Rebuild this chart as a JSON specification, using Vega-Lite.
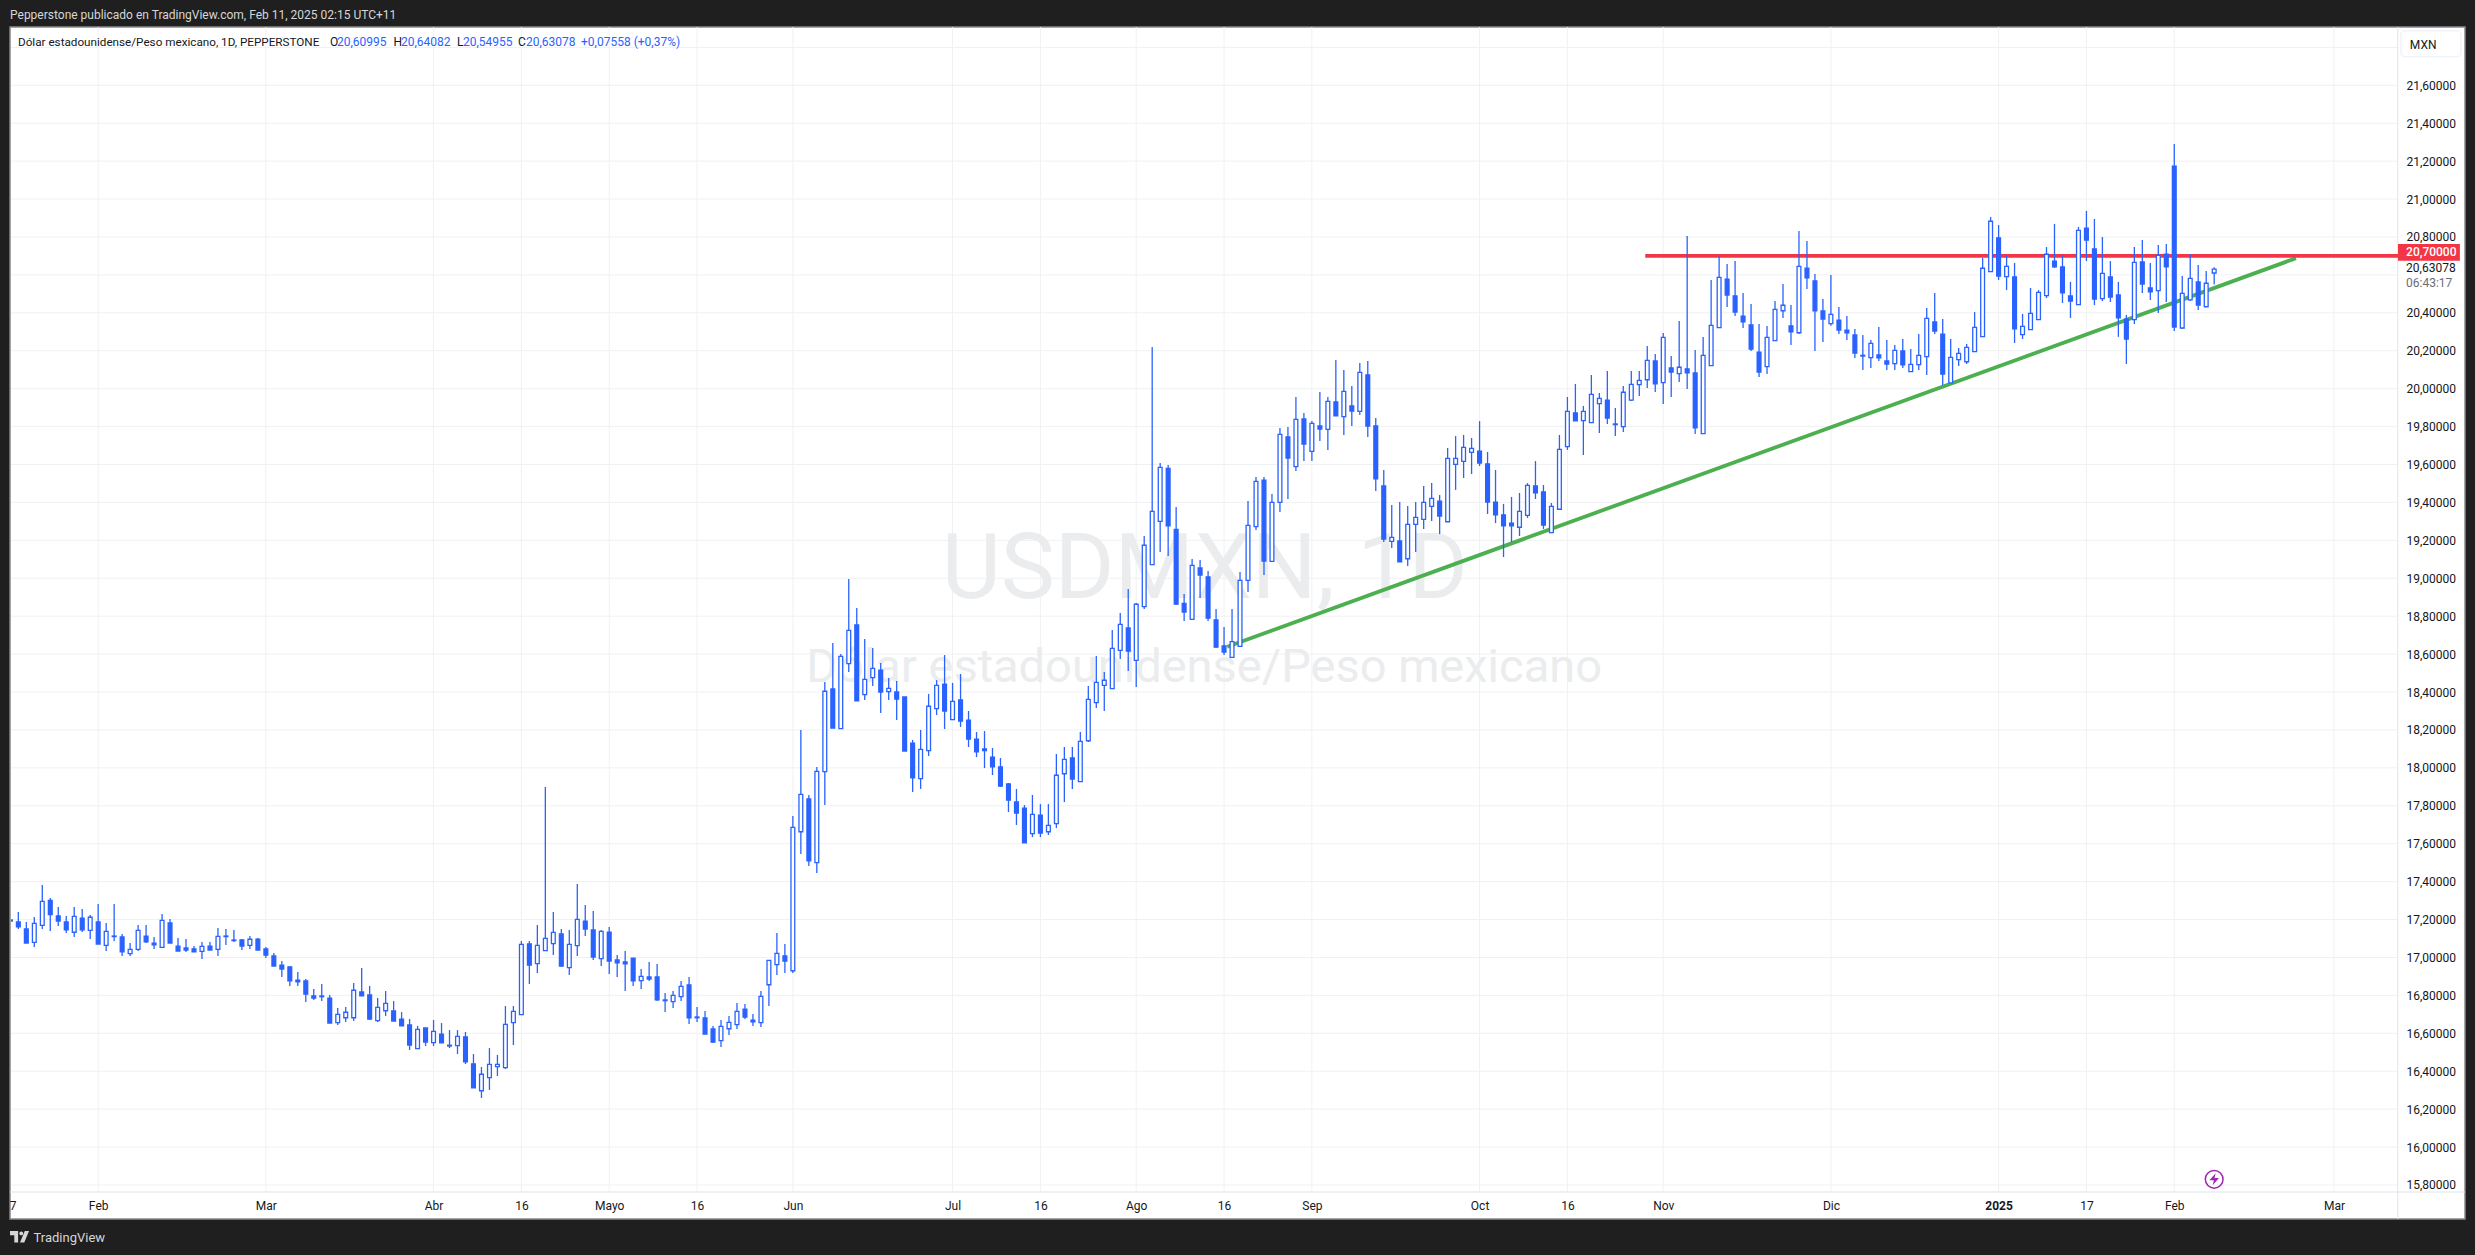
{
"$schema":"https://vega.github.io/schema/vega-lite/v6.json",
"width":2387,"height":1165,
"autosize":{"type":"none"},
"padding":{"left":11,"top":27,"right":77,"bottom":63},
"background":"#1f1f1f",
"view":{"fill":"#ffffff","stroke":null},
"config":{"text":{"font":"Roboto"},"axis":{"grid":false,"domain":false,"ticks":false,"title":null}},
"datasets":{
"candles":[
{"bar":-1,"o":17.198,"h":17.382,"l":17.183,"c":17.192},
{"bar":0,"o":17.187,"h":17.240,"l":17.150,"c":17.161},
{"bar":1,"o":17.150,"h":17.187,"l":17.076,"c":17.076},
{"bar":2,"o":17.080,"h":17.213,"l":17.055,"c":17.180},
{"bar":3,"o":17.169,"h":17.382,"l":17.150,"c":17.296},
{"bar":4,"o":17.301,"h":17.314,"l":17.140,"c":17.226},
{"bar":5,"o":17.219,"h":17.266,"l":17.166,"c":17.192},
{"bar":6,"o":17.187,"h":17.219,"l":17.129,"c":17.145},
{"bar":7,"o":17.133,"h":17.266,"l":17.108,"c":17.217},
{"bar":8,"o":17.208,"h":17.256,"l":17.134,"c":17.145},
{"bar":9,"o":17.143,"h":17.224,"l":17.097,"c":17.212},
{"bar":10,"o":17.187,"h":17.282,"l":17.071,"c":17.071},
{"bar":11,"o":17.064,"h":17.182,"l":17.034,"c":17.138},
{"bar":12,"o":17.113,"h":17.282,"l":17.087,"c":17.110},
{"bar":13,"o":17.108,"h":17.124,"l":17.008,"c":17.029},
{"bar":14,"o":17.020,"h":17.076,"l":17.008,"c":17.043},
{"bar":15,"o":17.043,"h":17.171,"l":17.034,"c":17.143},
{"bar":16,"o":17.113,"h":17.171,"l":17.076,"c":17.082},
{"bar":17,"o":17.076,"h":17.108,"l":17.045,"c":17.066},
{"bar":18,"o":17.053,"h":17.229,"l":17.053,"c":17.196},
{"bar":19,"o":17.182,"h":17.203,"l":17.076,"c":17.076},
{"bar":20,"o":17.060,"h":17.103,"l":17.034,"c":17.034},
{"bar":21,"o":17.050,"h":17.097,"l":17.029,"c":17.039},
{"bar":22,"o":17.045,"h":17.060,"l":17.029,"c":17.029},
{"bar":23,"o":17.032,"h":17.082,"l":16.992,"c":17.059},
{"bar":24,"o":17.060,"h":17.082,"l":17.039,"c":17.039},
{"bar":25,"o":17.043,"h":17.155,"l":17.008,"c":17.111},
{"bar":26,"o":17.110,"h":17.150,"l":17.066,"c":17.113},
{"bar":27,"o":17.092,"h":17.145,"l":17.082,"c":17.089},
{"bar":28,"o":17.092,"h":17.097,"l":17.039,"c":17.060},
{"bar":29,"o":17.064,"h":17.113,"l":17.045,"c":17.096},
{"bar":30,"o":17.097,"h":17.103,"l":17.039,"c":17.039},
{"bar":31,"o":17.045,"h":17.055,"l":16.997,"c":17.013},
{"bar":32,"o":17.008,"h":17.024,"l":16.955,"c":16.955},
{"bar":33,"o":16.960,"h":16.981,"l":16.897,"c":16.939},
{"bar":34,"o":16.950,"h":16.955,"l":16.850,"c":16.876},
{"bar":35,"o":16.881,"h":16.923,"l":16.850,"c":16.871},
{"bar":36,"o":16.876,"h":16.886,"l":16.765,"c":16.807},
{"bar":37,"o":16.797,"h":16.834,"l":16.776,"c":16.786},
{"bar":38,"o":16.797,"h":16.860,"l":16.770,"c":16.793},
{"bar":39,"o":16.786,"h":16.802,"l":16.654,"c":16.654},
{"bar":40,"o":16.656,"h":16.733,"l":16.644,"c":16.700},
{"bar":41,"o":16.682,"h":16.739,"l":16.660,"c":16.711},
{"bar":42,"o":16.682,"h":16.865,"l":16.665,"c":16.827},
{"bar":43,"o":16.818,"h":16.944,"l":16.797,"c":16.797},
{"bar":44,"o":16.802,"h":16.850,"l":16.670,"c":16.675},
{"bar":45,"o":16.667,"h":16.786,"l":16.660,"c":16.737},
{"bar":46,"o":16.719,"h":16.823,"l":16.691,"c":16.758},
{"bar":47,"o":16.718,"h":16.770,"l":16.665,"c":16.665},
{"bar":48,"o":16.675,"h":16.712,"l":16.639,"c":16.639},
{"bar":49,"o":16.644,"h":16.675,"l":16.512,"c":16.538},
{"bar":50,"o":16.519,"h":16.639,"l":16.519,"c":16.621},
{"bar":51,"o":16.628,"h":16.628,"l":16.533,"c":16.554},
{"bar":52,"o":16.551,"h":16.670,"l":16.533,"c":16.610},
{"bar":53,"o":16.596,"h":16.654,"l":16.549,"c":16.549},
{"bar":54,"o":16.533,"h":16.617,"l":16.522,"c":16.537},
{"bar":55,"o":16.535,"h":16.617,"l":16.491,"c":16.584},
{"bar":56,"o":16.581,"h":16.607,"l":16.438,"c":16.449},
{"bar":57,"o":16.438,"h":16.491,"l":16.312,"c":16.312},
{"bar":58,"o":16.297,"h":16.422,"l":16.259,"c":16.384},
{"bar":59,"o":16.366,"h":16.522,"l":16.301,"c":16.436},
{"bar":60,"o":16.424,"h":16.486,"l":16.375,"c":16.436},
{"bar":61,"o":16.419,"h":16.744,"l":16.412,"c":16.647},
{"bar":62,"o":16.656,"h":16.744,"l":16.538,"c":16.716},
{"bar":63,"o":16.698,"h":17.087,"l":16.698,"c":17.069},
{"bar":64,"o":17.071,"h":17.087,"l":16.860,"c":16.960},
{"bar":65,"o":16.967,"h":17.171,"l":16.918,"c":17.064},
{"bar":66,"o":17.036,"h":17.899,"l":17.036,"c":17.101},
{"bar":67,"o":17.073,"h":17.240,"l":17.013,"c":17.132},
{"bar":68,"o":17.124,"h":17.150,"l":16.950,"c":16.955},
{"bar":69,"o":16.946,"h":17.145,"l":16.907,"c":17.069},
{"bar":70,"o":17.062,"h":17.387,"l":17.008,"c":17.201},
{"bar":71,"o":17.192,"h":17.277,"l":17.113,"c":17.150},
{"bar":72,"o":17.145,"h":17.245,"l":16.987,"c":17.002},
{"bar":73,"o":16.994,"h":17.145,"l":16.955,"c":17.138},
{"bar":74,"o":17.134,"h":17.161,"l":16.913,"c":16.981},
{"bar":75,"o":16.987,"h":17.013,"l":16.897,"c":16.971},
{"bar":76,"o":16.976,"h":17.034,"l":16.823,"c":16.966},
{"bar":77,"o":16.997,"h":16.997,"l":16.849,"c":16.876},
{"bar":78,"o":16.878,"h":16.939,"l":16.834,"c":16.900},
{"bar":79,"o":16.897,"h":16.976,"l":16.876,"c":16.886},
{"bar":80,"o":16.897,"h":16.966,"l":16.770,"c":16.776},
{"bar":81,"o":16.776,"h":16.813,"l":16.712,"c":16.772},
{"bar":82,"o":16.767,"h":16.823,"l":16.733,"c":16.800},
{"bar":83,"o":16.793,"h":16.876,"l":16.770,"c":16.848},
{"bar":84,"o":16.855,"h":16.897,"l":16.649,"c":16.681},
{"bar":85,"o":16.686,"h":16.739,"l":16.660,"c":16.682},
{"bar":86,"o":16.681,"h":16.718,"l":16.596,"c":16.596},
{"bar":87,"o":16.623,"h":16.639,"l":16.549,"c":16.554},
{"bar":88,"o":16.561,"h":16.670,"l":16.528,"c":16.637},
{"bar":89,"o":16.624,"h":16.691,"l":16.591,"c":16.658},
{"bar":90,"o":16.646,"h":16.760,"l":16.623,"c":16.716},
{"bar":91,"o":16.728,"h":16.755,"l":16.675,"c":16.686},
{"bar":92,"o":16.670,"h":16.702,"l":16.639,"c":16.660},
{"bar":93,"o":16.656,"h":16.823,"l":16.633,"c":16.795},
{"bar":94,"o":16.856,"h":16.985,"l":16.744,"c":16.985},
{"bar":95,"o":16.962,"h":17.129,"l":16.907,"c":17.022},
{"bar":96,"o":17.008,"h":17.071,"l":16.918,"c":16.981},
{"bar":97,"o":16.930,"h":17.746,"l":16.918,"c":17.686},
{"bar":98,"o":17.663,"h":18.200,"l":17.546,"c":17.860},
{"bar":99,"o":17.836,"h":17.857,"l":17.482,"c":17.509},
{"bar":100,"o":17.500,"h":18.005,"l":17.445,"c":17.982},
{"bar":101,"o":17.980,"h":18.453,"l":17.804,"c":18.404},
{"bar":102,"o":18.416,"h":18.659,"l":18.210,"c":18.210},
{"bar":103,"o":18.207,"h":18.601,"l":18.207,"c":18.588},
{"bar":104,"o":18.550,"h":18.996,"l":18.506,"c":18.725},
{"bar":105,"o":18.754,"h":18.843,"l":18.353,"c":18.353},
{"bar":106,"o":18.386,"h":18.680,"l":18.358,"c":18.467},
{"bar":107,"o":18.476,"h":18.632,"l":18.432,"c":18.525},
{"bar":108,"o":18.516,"h":18.553,"l":18.289,"c":18.400},
{"bar":109,"o":18.402,"h":18.474,"l":18.358,"c":18.419},
{"bar":110,"o":18.400,"h":18.458,"l":18.252,"c":18.363},
{"bar":111,"o":18.374,"h":18.374,"l":18.089,"c":18.089},
{"bar":112,"o":18.131,"h":18.147,"l":17.873,"c":17.947},
{"bar":113,"o":17.943,"h":18.200,"l":17.889,"c":18.098},
{"bar":114,"o":18.091,"h":18.390,"l":18.063,"c":18.325},
{"bar":115,"o":18.312,"h":18.463,"l":18.279,"c":18.435},
{"bar":116,"o":18.442,"h":18.595,"l":18.205,"c":18.300},
{"bar":117,"o":18.254,"h":18.448,"l":18.254,"c":18.351},
{"bar":118,"o":18.358,"h":18.495,"l":18.216,"c":18.247},
{"bar":119,"o":18.252,"h":18.300,"l":18.110,"c":18.152},
{"bar":120,"o":18.152,"h":18.189,"l":18.057,"c":18.084},
{"bar":121,"o":18.100,"h":18.194,"l":17.999,"c":18.091},
{"bar":122,"o":18.057,"h":18.105,"l":17.962,"c":18.005},
{"bar":123,"o":18.005,"h":18.052,"l":17.899,"c":17.904},
{"bar":124,"o":17.915,"h":17.920,"l":17.767,"c":17.830},
{"bar":125,"o":17.820,"h":17.889,"l":17.699,"c":17.762},
{"bar":126,"o":17.788,"h":17.804,"l":17.604,"c":17.604},
{"bar":127,"o":17.653,"h":17.857,"l":17.635,"c":17.755},
{"bar":128,"o":17.751,"h":17.809,"l":17.635,"c":17.656},
{"bar":129,"o":17.663,"h":17.809,"l":17.646,"c":17.697},
{"bar":130,"o":17.706,"h":18.073,"l":17.683,"c":17.961},
{"bar":131,"o":17.969,"h":18.110,"l":17.820,"c":18.045},
{"bar":132,"o":18.052,"h":18.110,"l":17.889,"c":17.941},
{"bar":133,"o":17.927,"h":18.189,"l":17.927,"c":18.140},
{"bar":134,"o":18.143,"h":18.432,"l":18.136,"c":18.361},
{"bar":135,"o":18.344,"h":18.590,"l":18.316,"c":18.451},
{"bar":136,"o":18.435,"h":18.506,"l":18.300,"c":18.462},
{"bar":137,"o":18.418,"h":18.727,"l":18.418,"c":18.630},
{"bar":138,"o":18.620,"h":18.817,"l":18.574,"c":18.757},
{"bar":139,"o":18.738,"h":18.943,"l":18.511,"c":18.616},
{"bar":140,"o":18.567,"h":18.870,"l":18.427,"c":18.863},
{"bar":141,"o":18.850,"h":19.223,"l":18.838,"c":19.174},
{"bar":142,"o":19.072,"h":20.220,"l":19.072,"c":19.353},
{"bar":143,"o":19.300,"h":19.608,"l":19.139,"c":19.585},
{"bar":144,"o":19.580,"h":19.597,"l":19.117,"c":19.277},
{"bar":145,"o":19.258,"h":19.376,"l":18.859,"c":18.864},
{"bar":146,"o":18.868,"h":18.917,"l":18.775,"c":18.822},
{"bar":147,"o":18.783,"h":19.102,"l":18.783,"c":19.068},
{"bar":148,"o":19.054,"h":19.096,"l":18.896,"c":19.017},
{"bar":149,"o":19.007,"h":19.038,"l":18.775,"c":18.790},
{"bar":150,"o":18.780,"h":18.838,"l":18.632,"c":18.637},
{"bar":151,"o":18.643,"h":18.743,"l":18.595,"c":18.611},
{"bar":152,"o":18.583,"h":18.838,"l":18.583,"c":18.666},
{"bar":153,"o":18.641,"h":19.033,"l":18.641,"c":18.989},
{"bar":154,"o":18.989,"h":19.407,"l":18.928,"c":19.279},
{"bar":155,"o":19.272,"h":19.534,"l":19.255,"c":19.511},
{"bar":156,"o":19.518,"h":19.534,"l":19.017,"c":19.091},
{"bar":157,"o":19.089,"h":19.444,"l":19.089,"c":19.400},
{"bar":158,"o":19.400,"h":19.793,"l":19.349,"c":19.759},
{"bar":159,"o":19.745,"h":19.798,"l":19.418,"c":19.634},
{"bar":160,"o":19.589,"h":19.956,"l":19.566,"c":19.838},
{"bar":161,"o":19.840,"h":19.872,"l":19.618,"c":19.708},
{"bar":162,"o":19.669,"h":19.829,"l":19.618,"c":19.817},
{"bar":163,"o":19.803,"h":19.982,"l":19.724,"c":19.787},
{"bar":164,"o":19.785,"h":19.956,"l":19.676,"c":19.933},
{"bar":165,"o":19.930,"h":20.151,"l":19.856,"c":19.856},
{"bar":166,"o":19.852,"h":20.098,"l":19.756,"c":19.986},
{"bar":167,"o":19.909,"h":20.014,"l":19.803,"c":19.882},
{"bar":168,"o":19.880,"h":20.135,"l":19.861,"c":20.086},
{"bar":169,"o":20.072,"h":20.146,"l":19.745,"c":19.803},
{"bar":170,"o":19.803,"h":19.845,"l":19.460,"c":19.524},
{"bar":171,"o":19.487,"h":19.571,"l":19.191,"c":19.207},
{"bar":172,"o":19.195,"h":19.386,"l":19.160,"c":19.216},
{"bar":173,"o":19.197,"h":19.402,"l":19.086,"c":19.086},
{"bar":174,"o":19.103,"h":19.381,"l":19.065,"c":19.284},
{"bar":175,"o":19.284,"h":19.402,"l":19.139,"c":19.321},
{"bar":176,"o":19.311,"h":19.487,"l":19.260,"c":19.400},
{"bar":177,"o":19.379,"h":19.502,"l":19.302,"c":19.421},
{"bar":178,"o":19.407,"h":19.439,"l":19.233,"c":19.328},
{"bar":179,"o":19.298,"h":19.687,"l":19.298,"c":19.632},
{"bar":180,"o":19.601,"h":19.750,"l":19.466,"c":19.632},
{"bar":181,"o":19.617,"h":19.756,"l":19.529,"c":19.690},
{"bar":182,"o":19.664,"h":19.740,"l":19.550,"c":19.685},
{"bar":183,"o":19.671,"h":19.829,"l":19.592,"c":19.608},
{"bar":184,"o":19.603,"h":19.666,"l":19.339,"c":19.402},
{"bar":185,"o":19.402,"h":19.571,"l":19.291,"c":19.334},
{"bar":186,"o":19.334,"h":19.392,"l":19.112,"c":19.276},
{"bar":187,"o":19.291,"h":19.429,"l":19.191,"c":19.276},
{"bar":188,"o":19.269,"h":19.450,"l":19.223,"c":19.353},
{"bar":189,"o":19.332,"h":19.502,"l":19.318,"c":19.490},
{"bar":190,"o":19.487,"h":19.618,"l":19.418,"c":19.450},
{"bar":191,"o":19.455,"h":19.492,"l":19.260,"c":19.281},
{"bar":192,"o":19.241,"h":19.397,"l":19.241,"c":19.379},
{"bar":193,"o":19.364,"h":19.756,"l":19.364,"c":19.680},
{"bar":194,"o":19.694,"h":19.956,"l":19.677,"c":19.880},
{"bar":195,"o":19.872,"h":20.025,"l":19.830,"c":19.830},
{"bar":196,"o":19.831,"h":19.909,"l":19.650,"c":19.880},
{"bar":197,"o":19.821,"h":20.072,"l":19.821,"c":19.970},
{"bar":198,"o":19.921,"h":19.977,"l":19.766,"c":19.949},
{"bar":199,"o":19.940,"h":20.093,"l":19.814,"c":19.845},
{"bar":200,"o":19.810,"h":19.898,"l":19.750,"c":19.814},
{"bar":201,"o":19.800,"h":20.014,"l":19.771,"c":19.981},
{"bar":202,"o":19.940,"h":20.093,"l":19.935,"c":20.023},
{"bar":203,"o":20.021,"h":20.093,"l":19.961,"c":20.044},
{"bar":204,"o":20.047,"h":20.225,"l":20.004,"c":20.149},
{"bar":205,"o":20.146,"h":20.183,"l":19.982,"c":20.025},
{"bar":206,"o":20.032,"h":20.294,"l":19.919,"c":20.271},
{"bar":207,"o":20.109,"h":20.172,"l":19.956,"c":20.088},
{"bar":208,"o":20.079,"h":20.357,"l":20.035,"c":20.113},
{"bar":209,"o":20.104,"h":20.805,"l":19.998,"c":20.083},
{"bar":210,"o":20.083,"h":20.204,"l":19.761,"c":19.793},
{"bar":211,"o":19.763,"h":20.273,"l":19.763,"c":20.176},
{"bar":212,"o":20.121,"h":20.573,"l":20.121,"c":20.334},
{"bar":213,"o":20.322,"h":20.700,"l":20.322,"c":20.587},
{"bar":214,"o":20.578,"h":20.658,"l":20.431,"c":20.494},
{"bar":215,"o":20.489,"h":20.673,"l":20.383,"c":20.404},
{"bar":216,"o":20.383,"h":20.505,"l":20.320,"c":20.352},
{"bar":217,"o":20.336,"h":20.447,"l":20.199,"c":20.209},
{"bar":218,"o":20.193,"h":20.341,"l":20.062,"c":20.088},
{"bar":219,"o":20.116,"h":20.331,"l":20.077,"c":20.271},
{"bar":220,"o":20.253,"h":20.462,"l":20.253,"c":20.418},
{"bar":221,"o":20.411,"h":20.552,"l":20.373,"c":20.440},
{"bar":222,"o":20.331,"h":20.441,"l":20.230,"c":20.299},
{"bar":223,"o":20.295,"h":20.832,"l":20.288,"c":20.645},
{"bar":224,"o":20.636,"h":20.779,"l":20.526,"c":20.584},
{"bar":225,"o":20.568,"h":20.605,"l":20.199,"c":20.410},
{"bar":226,"o":20.410,"h":20.473,"l":20.246,"c":20.367},
{"bar":227,"o":20.343,"h":20.600,"l":20.332,"c":20.392},
{"bar":228,"o":20.362,"h":20.431,"l":20.288,"c":20.309},
{"bar":229,"o":20.309,"h":20.383,"l":20.257,"c":20.294},
{"bar":230,"o":20.283,"h":20.315,"l":20.162,"c":20.188},
{"bar":231,"o":20.176,"h":20.283,"l":20.099,"c":20.172},
{"bar":232,"o":20.164,"h":20.257,"l":20.109,"c":20.239},
{"bar":233,"o":20.178,"h":20.325,"l":20.146,"c":20.162},
{"bar":234,"o":20.146,"h":20.257,"l":20.099,"c":20.130},
{"bar":235,"o":20.132,"h":20.230,"l":20.099,"c":20.202},
{"bar":236,"o":20.199,"h":20.262,"l":20.109,"c":20.125},
{"bar":237,"o":20.090,"h":20.209,"l":20.088,"c":20.128},
{"bar":238,"o":20.127,"h":20.288,"l":20.098,"c":20.176},
{"bar":239,"o":20.169,"h":20.425,"l":20.072,"c":20.371},
{"bar":240,"o":20.352,"h":20.505,"l":20.288,"c":20.304},
{"bar":241,"o":20.288,"h":20.367,"l":20.019,"c":20.077},
{"bar":242,"o":20.030,"h":20.262,"l":20.030,"c":20.165},
{"bar":243,"o":20.153,"h":20.214,"l":20.120,"c":20.186},
{"bar":244,"o":20.142,"h":20.236,"l":20.130,"c":20.218},
{"bar":245,"o":20.195,"h":20.404,"l":20.195,"c":20.323},
{"bar":246,"o":20.274,"h":20.689,"l":20.274,"c":20.635},
{"bar":247,"o":20.617,"h":20.905,"l":20.617,"c":20.883},
{"bar":248,"o":20.795,"h":20.863,"l":20.573,"c":20.594},
{"bar":249,"o":20.591,"h":20.700,"l":20.520,"c":20.645},
{"bar":250,"o":20.589,"h":20.663,"l":20.241,"c":20.315},
{"bar":251,"o":20.285,"h":20.394,"l":20.262,"c":20.329},
{"bar":252,"o":20.311,"h":20.531,"l":20.311,"c":20.397},
{"bar":253,"o":20.364,"h":20.520,"l":20.364,"c":20.508},
{"bar":254,"o":20.491,"h":20.747,"l":20.478,"c":20.709},
{"bar":255,"o":20.673,"h":20.869,"l":20.636,"c":20.642},
{"bar":256,"o":20.642,"h":20.705,"l":20.452,"c":20.505},
{"bar":257,"o":20.489,"h":20.563,"l":20.373,"c":20.462},
{"bar":258,"o":20.443,"h":20.853,"l":20.443,"c":20.835},
{"bar":259,"o":20.847,"h":20.937,"l":20.673,"c":20.784},
{"bar":260,"o":20.737,"h":20.895,"l":20.441,"c":20.473},
{"bar":261,"o":20.475,"h":20.800,"l":20.462,"c":20.608},
{"bar":262,"o":20.589,"h":20.673,"l":20.457,"c":20.483},
{"bar":263,"o":20.494,"h":20.563,"l":20.273,"c":20.373},
{"bar":264,"o":20.367,"h":20.389,"l":20.130,"c":20.262},
{"bar":265,"o":20.364,"h":20.747,"l":20.341,"c":20.666},
{"bar":266,"o":20.668,"h":20.784,"l":20.505,"c":20.552},
{"bar":267,"o":20.531,"h":20.663,"l":20.468,"c":20.510},
{"bar":268,"o":20.517,"h":20.758,"l":20.399,"c":20.703},
{"bar":269,"o":20.710,"h":20.763,"l":20.457,"c":20.642},
{"bar":270,"o":21.174,"h":21.290,"l":20.304,"c":20.325},
{"bar":271,"o":20.320,"h":20.594,"l":20.315,"c":20.503},
{"bar":272,"o":20.468,"h":20.710,"l":20.462,"c":20.582},
{"bar":273,"o":20.563,"h":20.652,"l":20.415,"c":20.441},
{"bar":274,"o":20.432,"h":20.621,"l":20.432,"c":20.556},
{"bar":275,"o":20.60995,"h":20.64082,"l":20.54955,"c":20.63078}
],
"priceGrid":[{"price":15.8},{"price":16.0},{"price":16.2},{"price":16.4},{"price":16.6},{"price":16.8},{"price":17.0},{"price":17.2},{"price":17.4},{"price":17.6},{"price":17.8},{"price":18.0},{"price":18.2},{"price":18.4},{"price":18.6},{"price":18.8},{"price":19.0},{"price":19.2},{"price":19.4},{"price":19.6},{"price":19.8},{"price":20.0},{"price":20.2},{"price":20.4},{"price":20.6},{"price":20.8},{"price":21.0},{"price":21.2},{"price":21.4},{"price":21.6},{"price":21.8}],
"timeGrid":[{"bar":10},{"bar":31},{"bar":52},{"bar":63},{"bar":74},{"bar":85},{"bar":97},{"bar":117},{"bar":128},{"bar":140},{"bar":151},{"bar":162},{"bar":183},{"bar":194},{"bar":206},{"bar":227},{"bar":248},{"bar":259},{"bar":270},{"bar":290}]
},
"layer":[
{"data":{"values":[{"bar":-1.04,"bar2":306.41,"price":15.621,"price2":21.9075}]},
 "mark":{"type":"rect","fill":"#ffffff","stroke":"#8a8a8a","strokeWidth":1.5},
 "encoding":{
  "x":{"field":"bar","type":"quantitative","title":null,"scale":{"domain":[-0.918,298.02],"nice":false,"zero":false,"padding":0},
   "axis":{"orient":"bottom","zindex":1,"labelPadding":8,"labelFont":"Roboto","labelFontSize":12,"labelColor":"#131722","labelOverlap":false,"labelBound":false,"labelFlush":false,
    "values":[-0.7,10,31,52,63,74,85,97,117,128,140,151,162,183,194,206,227,248,259,270,290],
    "labelFontWeight":{"condition":{"test":"datum.value==248","value":"bold"},"value":"normal"},
    "labelExpr":"{'-0.7':'7','10':'Feb','31':'Mar','52':'Abr','63':'16','74':'Mayo','85':'16','97':'Jun','117':'Jul','128':'16','140':'Ago','151':'16','162':'Sep','183':'Oct','194':'16','206':'Nov','227':'Dic','248':'2025','259':'17','270':'Feb','290':'Mar'}[''+datum.value]"}},
  "x2":{"field":"bar2"},
  "y":{"field":"price","type":"quantitative","title":null,"scale":{"domain":[15.763,21.9075],"nice":false,"zero":false},
   "axis":{"orient":"right","zindex":1,"labelPadding":8,"labelFont":"Roboto","labelFontSize":12,"labelColor":"#131722","labelOverlap":false,"labelBound":false,"labelFlush":false,
    "values":[15.8,16.0,16.2,16.4,16.6,16.8,17.0,17.2,17.4,17.6,17.8,18.0,18.2,18.4,18.6,18.8,19.0,19.2,19.4,19.6,19.8,20.0,20.2,20.4,20.8,21.0,21.2,21.4,21.6],
    "labelExpr":"replace(format(datum.value,'.5f'),'.',',')"}},
  "y2":{"field":"price2"}}},
{"data":{"name":"priceGrid"},
 "mark":{"type":"rule","color":"#f0f1f3","strokeWidth":1},
 "encoding":{"y":{"field":"price","type":"quantitative","title":null,"scale":{"domain":[15.763,21.9075],"nice":false,"zero":false}}}},
{"data":{"name":"timeGrid"},
 "mark":{"type":"rule","color":"#f0f1f3","strokeWidth":1},
 "encoding":{"x":{"field":"bar","type":"quantitative","title":null,"scale":{"domain":[-0.918,298.02],"nice":false,"zero":false,"padding":0}}}},
{"data":{"values":[{"bar":298.0,"price":15.621,"price2":21.9075}]},
 "mark":{"type":"rule","color":"#e0e3eb","strokeWidth":1},
 "encoding":{"x":{"field":"bar","type":"quantitative","title":null,"scale":{"domain":[-0.918,298.02],"nice":false,"zero":false,"padding":0}},
  "y":{"field":"price","type":"quantitative","title":null,"scale":{"domain":[15.763,21.9075],"nice":false,"zero":false}},"y2":{"field":"price2"}}},
{"data":{"values":[{"bar":-1.04,"bar2":306.41,"price":15.763}]},
 "mark":{"type":"rule","color":"#e0e3eb","strokeWidth":1},
 "encoding":{"x":{"field":"bar","type":"quantitative","title":null,"scale":{"domain":[-0.918,298.02],"nice":false,"zero":false,"padding":0}},"x2":{"field":"bar2"},
  "y":{"field":"price","type":"quantitative","title":null,"scale":{"domain":[15.763,21.9075],"nice":false,"zero":false}}}},
{"data":{"values":[{"bar":148.6,"price":18.896,"text":"USDMXN, 1D"}]},
 "mark":{"type":"text","font":"Roboto","fontSize":91,"color":"#eaecee","align":"center","baseline":"alphabetic"},
 "encoding":{"x":{"field":"bar","type":"quantitative","title":null,"scale":{"domain":[-0.918,298.02],"nice":false,"zero":false,"padding":0}},
  "y":{"field":"price","type":"quantitative","title":null,"scale":{"domain":[15.763,21.9075],"nice":false,"zero":false}},"text":{"field":"text"}}},
{"data":{"values":[{"bar":148.5,"price":18.454,"text":"Dólar estadounidense/Peso mexicano"}]},
 "mark":{"type":"text","font":"Roboto","fontSize":47,"color":"#eaecee","align":"center","baseline":"alphabetic"},
 "encoding":{"x":{"field":"bar","type":"quantitative","title":null,"scale":{"domain":[-0.918,298.02],"nice":false,"zero":false,"padding":0}},
  "y":{"field":"price","type":"quantitative","title":null,"scale":{"domain":[15.763,21.9075],"nice":false,"zero":false}},"text":{"field":"text"}}},
{"data":{"values":[{"bar":151.4,"price":18.639},{"bar":285.24,"price":20.688}]},
 "mark":{"type":"line","color":"#4caf50","strokeWidth":3.8},
 "encoding":{"x":{"field":"bar","type":"quantitative","title":null,"scale":{"domain":[-0.918,298.02],"nice":false,"zero":false,"padding":0}},
  "y":{"field":"price","type":"quantitative","title":null,"scale":{"domain":[15.763,21.9075],"nice":false,"zero":false}}}},
{"data":{"values":[{"bar":203.75,"price":20.7},{"bar":298.02,"price":20.7}]},
 "mark":{"type":"line","color":"#f23645","strokeWidth":3.8},
 "encoding":{"x":{"field":"bar","type":"quantitative","title":null,"scale":{"domain":[-0.918,298.02],"nice":false,"zero":false,"padding":0}},
  "y":{"field":"price","type":"quantitative","title":null,"scale":{"domain":[15.763,21.9075],"nice":false,"zero":false}}}},
{"data":{"name":"candles"},
 "mark":{"type":"rule","color":"#2962ff","strokeWidth":1.3,"clip":true},
 "encoding":{"x":{"field":"bar","type":"quantitative","title":null,"scale":{"domain":[-0.918,298.02],"nice":false,"zero":false,"padding":0}},
  "y":{"field":"l","type":"quantitative","title":null,"scale":{"domain":[15.763,21.9075],"nice":false,"zero":false}},"y2":{"field":"h"}}},
{"data":{"name":"candles"},
 "mark":{"type":"bar","size":3.8,"stroke":"#2962ff","strokeWidth":1.3,"clip":true},
 "encoding":{"x":{"field":"bar","type":"quantitative","title":null,"scale":{"domain":[-0.918,298.02],"nice":false,"zero":false,"padding":0}},
  "y":{"field":"o","type":"quantitative","title":null,"scale":{"domain":[15.763,21.9075],"nice":false,"zero":false}},"y2":{"field":"c"},
  "fill":{"condition":{"test":"datum.c<datum.o","value":"#2962ff"},"value":"#ffffff"}}},
{"data":{"values":[{"bar":298.02,"bar2":305.77,"price":20.675,"price2":20.763}]},
 "mark":{"type":"rect","fill":"#f23645"},
 "encoding":{"x":{"field":"bar","type":"quantitative","title":null,"scale":{"domain":[-0.918,298.02],"nice":false,"zero":false,"padding":0}},"x2":{"field":"bar2"},
  "y":{"field":"price","type":"quantitative","title":null,"scale":{"domain":[15.763,21.9075],"nice":false,"zero":false}},"y2":{"field":"price2"}}},
{"data":{"values":[{"bar":298.4,"bar2":305.9,"price":21.751,"price2":21.888}]},
 "mark":{"type":"rect","fill":"#ffffff","stroke":"#f0f3fa","strokeWidth":1.5,"cornerRadius":4},
 "encoding":{"x":{"field":"bar","type":"quantitative","title":null,"scale":{"domain":[-0.918,298.02],"nice":false,"zero":false,"padding":0}},"x2":{"field":"bar2"},
  "y":{"field":"price","type":"quantitative","title":null,"scale":{"domain":[15.763,21.9075],"nice":false,"zero":false}},"y2":{"field":"price2"}}},
{"data":{"values":[{"bar":-1.04,"price":21.971,"text":"Pepperstone publicado en TradingView.com, Feb 11, 2025 02:15 UTC+11"}]},
 "mark":{"type":"text","font":"Roboto","fontSize":12,"color":"#d6d6d6","align":"left","baseline":"middle"},
 "encoding":{"x":{"field":"bar","type":"quantitative","title":null,"scale":{"domain":[-0.918,298.02],"nice":false,"zero":false,"padding":0}},
  "y":{"field":"price","type":"quantitative","title":null,"scale":{"domain":[15.763,21.9075],"nice":false,"zero":false}},"text":{"field":"text"}}},
{"data":{"values":[{"bar":1.9,"price":15.522,"text":"TradingView"}]},
 "mark":{"type":"text","font":"Roboto","fontSize":13,"color":"#d6d6d6","align":"left","baseline":"middle"},
 "encoding":{"x":{"field":"bar","type":"quantitative","title":null,"scale":{"domain":[-0.918,298.02],"nice":false,"zero":false,"padding":0}},
  "y":{"field":"price","type":"quantitative","title":null,"scale":{"domain":[15.763,21.9075],"nice":false,"zero":false}},"text":{"field":"text"}}},
{"data":{"values":[{"bar":0.15,"price":15.527}]},
 "mark":{"type":"point","shape":"M-1,-0.6H-0.15V0.6H-0.55V-0.15H-1Z M-0.02,-0.35A0.2,0.2,0,1,0,0.38,-0.35A0.2,0.2,0,1,0,-0.02,-0.35Z M0.55,-0.6H1L0.5,0.6H0.05Z","size":361,"filled":true,"color":"#d6d6d6","opacity":1},
 "encoding":{"x":{"field":"bar","type":"quantitative","title":null,"scale":{"domain":[-0.918,298.02],"nice":false,"zero":false,"padding":0}},
  "y":{"field":"price","type":"quantitative","title":null,"scale":{"domain":[15.763,21.9075],"nice":false,"zero":false}}}},
{"data":{"values":[{"bar":-0.04,"price":21.828,"text":"Dólar estadounidense/Peso mexicano, 1D, PEPPERSTONE"}]},
 "mark":{"type":"text","font":"Roboto","fontSize":11.7,"color":"#131722","align":"left","baseline":"middle"},
 "encoding":{"x":{"field":"bar","type":"quantitative","title":null,"scale":{"domain":[-0.918,298.02],"nice":false,"zero":false,"padding":0}},
  "y":{"field":"price","type":"quantitative","title":null,"scale":{"domain":[15.763,21.9075],"nice":false,"zero":false}},"text":{"field":"text"}}},
{"data":{"values":[
  {"bar":39.03,"price":21.828,"text":"O"},
  {"bar":46.99,"price":21.828,"text":"H"},
  {"bar":54.94,"price":21.828,"text":"L"},
  {"bar":62.58,"price":21.828,"text":"C"},
  {"bar":299.5,"price":21.815,"text":"MXN"},
  {"bar":299.03,"price":20.635,"text":"20,63078"}]},
 "mark":{"type":"text","font":"Roboto","fontSize":12,"color":"#131722","align":"left","baseline":"middle"},
 "encoding":{"x":{"field":"bar","type":"quantitative","title":null,"scale":{"domain":[-0.918,298.02],"nice":false,"zero":false,"padding":0}},
  "y":{"field":"price","type":"quantitative","title":null,"scale":{"domain":[15.763,21.9075],"nice":false,"zero":false}},"text":{"field":"text"}}},
{"data":{"values":[
  {"bar":39.91,"price":21.828,"text":"20,60995"},
  {"bar":47.92,"price":21.828,"text":"20,64082"},
  {"bar":55.69,"price":21.828,"text":"20,54955"},
  {"bar":63.58,"price":21.828,"text":"20,63078"},
  {"bar":70.47,"price":21.828,"text":"+0,07558 (+0,37%)"}]},
 "mark":{"type":"text","font":"Roboto","fontSize":12,"color":"#2962ff","align":"left","baseline":"middle"},
 "encoding":{"x":{"field":"bar","type":"quantitative","title":null,"scale":{"domain":[-0.918,298.02],"nice":false,"zero":false,"padding":0}},
  "y":{"field":"price","type":"quantitative","title":null,"scale":{"domain":[15.763,21.9075],"nice":false,"zero":false}},"text":{"field":"text"}}},
{"data":{"values":[{"bar":299.03,"price":20.722,"text":"20,70000"}]},
 "mark":{"type":"text","font":"Roboto","fontSize":12,"fontWeight":500,"color":"#ffffff","align":"left","baseline":"middle"},
 "encoding":{"x":{"field":"bar","type":"quantitative","title":null,"scale":{"domain":[-0.918,298.02],"nice":false,"zero":false,"padding":0}},
  "y":{"field":"price","type":"quantitative","title":null,"scale":{"domain":[15.763,21.9075],"nice":false,"zero":false}},"text":{"field":"text"}}},
{"data":{"values":[{"bar":299.03,"price":20.559,"text":"06:43:17"}]},
 "mark":{"type":"text","font":"Roboto","fontSize":12,"color":"#6a6d78","align":"left","baseline":"middle"},
 "encoding":{"x":{"field":"bar","type":"quantitative","title":null,"scale":{"domain":[-0.918,298.02],"nice":false,"zero":false,"padding":0}},
  "y":{"field":"price","type":"quantitative","title":null,"scale":{"domain":[15.763,21.9075],"nice":false,"zero":false}},"text":{"field":"text"}}},
{"data":{"values":[{"bar":275,"price":15.83}]},
 "mark":{"type":"point","shape":"circle","size":314,"filled":false,"color":"#9c27b0","strokeWidth":1.5,"opacity":1},
 "encoding":{"x":{"field":"bar","type":"quantitative","title":null,"scale":{"domain":[-0.918,298.02],"nice":false,"zero":false,"padding":0}},
  "y":{"field":"price","type":"quantitative","title":null,"scale":{"domain":[15.763,21.9075],"nice":false,"zero":false}}}},
{"data":{"values":[{"bar":275,"price":15.83}]},
 "mark":{"type":"point","shape":"M0.25,-1L-0.8,0.15H-0.05L-0.25,1L0.8,-0.2H0.05Z","size":144,"filled":true,"color":"#9c27b0","opacity":1},
 "encoding":{"x":{"field":"bar","type":"quantitative","title":null,"scale":{"domain":[-0.918,298.02],"nice":false,"zero":false,"padding":0}},
  "y":{"field":"price","type":"quantitative","title":null,"scale":{"domain":[15.763,21.9075],"nice":false,"zero":false}}}}
]
}
